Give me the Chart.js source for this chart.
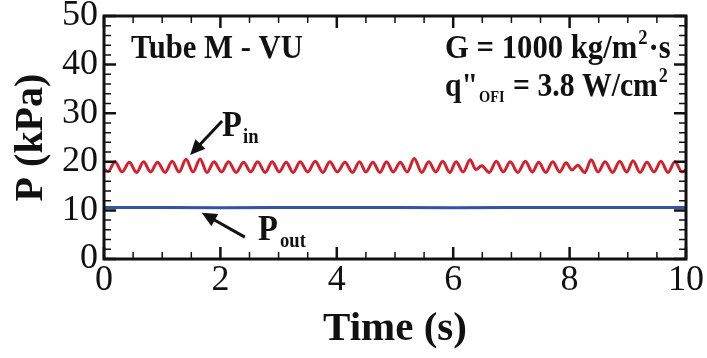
<!DOCTYPE html>
<html>
<head>
<meta charset="utf-8">
<script src="https://cdn.jsdelivr.net/npm/chart.js@4"></script>
<style>
  html, body { margin: 0; padding: 0; background: #fff; }
  #wrap { width: 707px; height: 358px; position: relative; }
</style>
</head>
<body>
<div id="wrap"><canvas id="mycanvas"></canvas></div>
<script>
var pinTime = [0, 0.07, 0.19, 0.31, 0.435, 0.56, 0.68, 0.80, 0.92, 1.05, 1.17, 1.29, 1.41, 1.53, 1.65, 1.77, 1.89, 2.02, 2.14, 2.27, 2.40, 2.52, 2.64, 2.77, 2.89, 3.01, 3.13, 3.25, 3.37, 3.50, 3.63, 3.76, 3.88, 4.01, 4.14, 4.27, 4.39, 4.50, 4.62, 4.74, 4.855, 4.97, 5.09, 5.21, 5.33, 5.46, 5.58, 5.70, 5.82, 5.94, 6.05, 6.17, 6.29, 6.39, 6.49, 6.62, 6.74, 6.86, 6.98, 7.11, 7.24, 7.36, 7.47, 7.59, 7.71, 7.83, 7.94, 8.04, 8.14, 8.26, 8.37, 8.49, 8.61, 8.74, 8.86, 8.98, 9.09, 9.21, 9.33, 9.45, 9.57, 9.69, 9.81, 9.93, 10.0];
var pinValues = [18.5, 18.0, 20.0, 17.9, 19.9, 17.8, 20.0, 17.9, 19.9, 17.8, 20.1, 17.9, 20.5, 17.9, 20.6, 17.8, 20.0, 17.9, 20.0, 17.8, 19.9, 17.9, 20.0, 17.8, 20.0, 17.9, 19.9, 17.8, 20.0, 17.9, 20.1, 17.8, 20.0, 17.9, 19.9, 17.8, 20.0, 17.9, 19.9, 17.8, 20.0, 17.9, 19.9, 17.9, 20.7, 17.8, 20.0, 17.9, 20.1, 17.8, 20.0, 17.9, 20.4, 18.4, 19.2, 17.8, 20.1, 17.9, 20.0, 17.8, 20.1, 17.9, 19.9, 17.8, 20.0, 17.9, 19.8, 18.3, 19.3, 17.8, 20.4, 17.9, 20.0, 17.8, 20.1, 17.9, 20.2, 17.8, 19.9, 17.9, 20.1, 17.8, 20.0, 17.9, 18.4];

// outlet pressure, nearly flat
var poutTime = [0, 1, 2, 3, 4, 5, 6, 7, 8, 9, 10];
var poutValues = [10.6, 10.6, 10.55, 10.6, 10.6, 10.6, 10.55, 10.6, 10.6, 10.6, 10.6];

var xTicks = [0, 2, 4, 6, 8, 10];
var yTicks = [0, 10, 20, 30, 40, 50];

function pairs(xs, ys) {
    var out = [];
    for (var i = 0; i < xs.length; i++) out.push({x: xs[i], y: ys[i]});
    return out;
}

var SERIF = "'Liberation Serif', 'Times New Roman', serif";

// draws text squeezed horizontally (the figure's type is condensed), returns the advance
function sqText(ctx, str, x, y, font, sq) {
    sq = sq || 0.93;
    ctx.font = font;
    ctx.save();
    ctx.translate(x, y);
    ctx.scale(sq, 1);
    ctx.fillText(str, 0, 0);
    ctx.restore();
    return ctx.measureText(str).width * sq;
}

// frame, inward ticks on all four sides, and the text labels
var decor = {
    id: 'decor',
    afterDraw: function(chart) {
        var ctx = chart.ctx;
        var a = chart.chartArea;
        var xs = chart.scales.x, ys = chart.scales.y;
        ctx.save();
        ctx.strokeStyle = '#111';
        ctx.lineCap = 'butt';

        var v, p;
        for (v = 0; v <= 10.001; v += 0.5) {
            p = xs.getPixelForValue(v);
            var major = Math.abs(v / 2 - Math.round(v / 2)) < 1e-6;
            var len = major ? 12 : 7;
            ctx.lineWidth = major ? 2.5 : 1.5;
            ctx.beginPath();
            ctx.moveTo(p, a.bottom); ctx.lineTo(p, a.bottom - len);
            ctx.moveTo(p, a.top); ctx.lineTo(p, a.top + len);
            ctx.stroke();
        }
        for (v = 0; v <= 50.001; v += 2) {
            p = ys.getPixelForValue(v);
            var maj = v % 10 === 0;
            var l2 = maj ? 12 : 7;
            ctx.lineWidth = maj ? 2.5 : 1.5;
            ctx.beginPath();
            ctx.moveTo(a.left, p); ctx.lineTo(a.left + l2, p);
            ctx.moveTo(a.right, p); ctx.lineTo(a.right - l2, p);
            ctx.stroke();
        }
        ctx.lineWidth = 3;
        ctx.strokeRect(a.left, a.top, a.right - a.left, a.bottom - a.top);

        ctx.fillStyle = '#111';
        ctx.textBaseline = 'alphabetic';
        ctx.textAlign = 'left';
        var big = 'bold 33px ' + SERIF;
        var sup = 'bold 20px ' + SERIF;
        var sub = 'bold 16px ' + SERIF;

        sqText(ctx, 'Tube M - VU', 131, 58, big);

        // G = 1000 kg/m^2.s
        var x = 445;
        x += sqText(ctx, 'G = 1000 kg/m', x, 58, big);
        x += sqText(ctx, '2', x + 1, 44, sup) + 2;
        sqText(ctx, '\u00b7s', x, 58, big);

        // q''_OFI = 3.8 W/cm^2
        x = 445;
        x += sqText(ctx, 'q"', x, 96, big, 0.9) + 1;
        x += sqText(ctx, 'OFI', x, 102, sub, 0.9) + 1;
        x += sqText(ctx, ' = 3.8 W/cm', x, 96, big, 0.9);
        sqText(ctx, '2', x + 1, 82, sup, 0.9);

        // arrows
        function arrow(t0, v0, t1, v1) {
            var ax = xs.getPixelForValue(t0), ay = ys.getPixelForValue(v0);
            var bx = xs.getPixelForValue(t1), by = ys.getPixelForValue(v1);
            var ang = Math.atan2(by - ay, bx - ax);
            var hl = 15, hw = 7;
            ctx.lineWidth = 3;
            ctx.beginPath();
            ctx.moveTo(ax, ay);
            ctx.lineTo(bx - Math.cos(ang) * hl * 0.8, by - Math.sin(ang) * hl * 0.8);
            ctx.stroke();
            ctx.beginPath();
            ctx.moveTo(bx, by);
            ctx.lineTo(bx - Math.cos(ang) * hl - Math.sin(ang) * hw, by - Math.sin(ang) * hl + Math.cos(ang) * hw);
            ctx.lineTo(bx - Math.cos(ang) * hl + Math.sin(ang) * hw, by - Math.sin(ang) * hl - Math.cos(ang) * hw);
            ctx.closePath();
            ctx.fill();
        }
        arrow(2.03, 28.4, 1.48, 21.4);
        arrow(2.42, 4.5, 1.68, 9.5);

        sqText(ctx, 'P', 222, 136, 'bold 35px ' + SERIF);
        sqText(ctx, 'P', 258, 240, 'bold 35px ' + SERIF);
        sqText(ctx, 'in', 243, 143, 'bold 20px ' + SERIF);
        sqText(ctx, 'out', 280, 247, 'bold 20px ' + SERIF);
        ctx.restore();
    }
};

var CHART = document.getElementById('mycanvas');

var graph = new Chart(CHART, {
    type: 'line',
    data: {
        datasets: [
            {
                label: 'Pin',
                data: pairs(pinTime, pinValues),
                borderColor: '#d4202c',
                borderWidth: 3,
                pointRadius: 0,
                cubicInterpolationMode: 'monotone',
                fill: false
            },
            {
                label: 'Pout',
                data: pairs(poutTime, poutValues),
                borderColor: '#3652a3',
                borderWidth: 3,
                pointRadius: 0,
                tension: 0,
                fill: false
            }
        ]
    },
    options: {
        responsive: true,
        maintainAspectRatio: false,
        animation: false,
        events: [],
        layout: { padding: { top: 16, right: 21, bottom: 0, left: 0 } },
        plugins: { legend: { display: false }, tooltip: { enabled: false } },
        scales: {
            x: {
                type: 'linear',
                min: 0, max: 10,
                afterBuildTicks: function(s) { s.ticks = xTicks.map(function(v) { return {value: v}; }); },
                ticks: { color: '#111', padding: 2, maxRotation: 0, font: { family: SERIF, size: 36, lineHeight: 1.1 } },
                grid: { display: false, drawTicks: false },
                border: { display: false },
                title: { display: true, text: 'Time (s)', color: '#111', padding: { top: 0, bottom: 4 }, font: { family: SERIF, size: 41, weight: 'bold' } },
                afterFit: function(s) { s.height = 99; s.paddingLeft = 0; s.paddingRight = 0; }
            },
            y: {
                type: 'linear',
                min: 0, max: 50,
                afterBuildTicks: function(s) { s.ticks = yTicks.map(function(v) { return {value: v}; }); },
                ticks: { color: '#111', padding: 6, font: { family: SERIF, size: 36, lineHeight: 1.1 } },
                grid: { display: false, drawTicks: false },
                border: { display: false },
                title: { display: true, text: 'P (kPa)', color: '#111', padding: { top: 8, bottom: 0 }, font: { family: SERIF, size: 40, weight: 'bold' } },
                afterFit: function(s) { s.width = 104; s.paddingTop = 0; s.paddingBottom = 0; }
            }
        }
    },
    plugins: [decor]
});
</script>
</body>
</html>
